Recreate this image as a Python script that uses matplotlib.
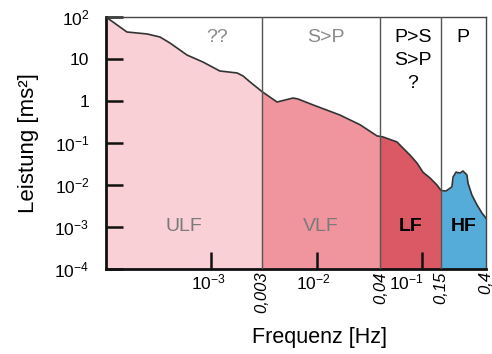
import numpy as np
import matplotlib
matplotlib.use("Agg")
import matplotlib.pyplot as plt
import matplotlib.transforms as mtransforms

plt.rcParams["font.family"] = ["Liberation Sans", "DejaVu Sans"]
plt.rcParams["mathtext.fontset"] = "custom"
plt.rcParams["mathtext.rm"] = "Liberation Sans"
plt.rcParams["mathtext.it"] = "Liberation Sans:italic"
plt.rcParams["mathtext.bf"] = "Liberation Sans:bold"

# Power spectral density of heart-rate variability (log-log)
freq = [1.0e-4, 1.58e-4, 2.45e-4, 3.25e-4, 4.04e-4, 5.86e-4, 8.3e-4, 1.2e-3,
        1.75e-3, 1.99e-3, 2.32e-3, 3.0e-3, 4.18e-3, 5.93e-3, 6.6e-3, 9.2e-3,
        0.0165, 0.0256, 0.0371, 0.040, 0.0423, 0.0573, 0.0653, 0.0762, 0.0887,
        0.101, 0.118, 0.137, 0.150, 0.167, 0.19, 0.195, 0.208, 0.227, 0.242,
        0.264, 0.27, 0.294, 0.329, 0.367, 0.40]
power = [100, 43.9, 39.4, 33.3, 24.0, 12.4, 8.45, 5.16,
         4.63, 3.93, 2.83, 1.68, 0.94, 1.17, 1.11, 0.80,
         0.46, 0.27, 0.146, 0.142, 0.138, 0.105, 0.075, 0.051, 0.033,
         0.020, 0.0145, 0.0099, 0.0073, 0.0071, 0.0089, 0.0153, 0.020, 0.019, 0.0213,
         0.0171, 0.011, 0.0057, 0.0033, 0.0021, 0.0016]

band_names = ["ULF", "VLF", "LF", "HF"]
band_edges = [1e-4, 0.003, 0.04, 0.15, 0.4]
band_colors = ["#f8d0d5", "#f0959e", "#da5965", "#55acd9"]
band_label_colors = ["#7a7a7a", "#7a7a7a", "black", "black"]
band_label_weights = ["normal", "normal", "bold", "bold"]
origin_texts = [("??", 1.13e-3, 0.92, "#8a8a8a"),
                ("S>P", 0.0122, 0.92, "#8a8a8a"),
                ("P>S", 0.0813, 0.92, "black"),
                ("S>P", 0.0813, 0.828, "black"),
                ("?", 0.0813, 0.735, "black"),
                ("P", 0.242, 0.92, "black")]

y_ticks = [1e2, 1e1, 1, 1e-1, 1e-2, 1e-3, 1e-4]
y_tick_labels = [r"$10^{2}$", "10", "1", r"$10^{-1}$", r"$10^{-2}$", r"$10^{-3}$", r"$10^{-4}$"]
x_ticks = [1e-3, 1e-2, 1e-1]
x_tick_labels = [r"$10^{-3}$", r"$10^{-2}$", r"$10^{-1}$"]
x_label_shift_px = [-3, -4, -16]
edge_labels = ["0,003", "0,04", "0,15", "0,4"]

f = np.array(freq)
p = np.array(power)

fig = plt.figure(figsize=(4.92, 3.54), dpi=100)
ax = fig.add_axes([0.2154, 0.241, 0.7724, 0.711])
ax.set_xscale("log")
ax.set_yscale("log")
ax.set_xlim(1e-4, 0.4)
ax.set_ylim(1e-4, 1e2)

for i, name in enumerate(band_names):
    lo, hi = band_edges[i], band_edges[i + 1]
    mask = (f >= lo) & (f <= hi)
    ax.fill_between(f, 1e-4, p, where=mask, color=band_colors[i], lw=0, zorder=1)

ax.plot(f, p, color="#333333", lw=1.2, zorder=3)

for e in band_edges[1:-1]:
    ax.axvline(e, color="#555555", lw=1.0, zorder=4)

blend = mtransforms.blended_transform_factory(ax.transData, ax.transAxes)
for i, name in enumerate(band_names):
    xc = np.sqrt(band_edges[i] * band_edges[i + 1])
    ax.text(xc, 0.166, name, transform=blend, ha="center", va="center",
            fontsize=14, color=band_label_colors[i],
            fontweight=band_label_weights[i], zorder=5)

for txt, xv, yv, col in origin_texts:
    ax.text(xv, yv, txt, transform=blend, ha="center", va="center",
            fontsize=14, color=col, zorder=5)

# Axes frame
for side in ["left", "bottom"]:
    ax.spines[side].set_linewidth(2.0)
    ax.spines[side].set_color("#111111")
for side in ["top", "right"]:
    ax.spines[side].set_linewidth(1.0)
    ax.spines[side].set_color("#444444")

ax.set_yticks(y_ticks)
ax.set_yticklabels(y_tick_labels, fontsize=12.5)
ax.set_xticks(x_ticks)
ax.set_xticklabels(x_tick_labels, fontsize=12.5)
ax.minorticks_off()
ax.tick_params(axis="both", direction="in", length=12, width=1.8, color="#111111", zorder=6)
ax.tick_params(axis="y", pad=12)
ax.tick_params(axis="x", pad=3)

# nudge the decade labels on the frequency axis so they clear the band edges
for lab, dx in zip(ax.get_xticklabels(), x_label_shift_px):
    lab.set_transform(lab.get_transform() +
                      mtransforms.ScaledTranslation(dx / 100, 0, fig.dpi_scale_trans))

for e, lab in zip(band_edges[1:], edge_labels):
    ax.text(e, -0.01, lab, transform=blend, rotation=90, ha="center", va="top",
            fontsize=12, style="italic", color="black")

ax.set_xlabel("Frequenz [Hz]", fontsize=15.5, va="center")
ax.xaxis.set_label_coords(0.563, -0.275)
ax.set_ylabel("Leistung [ms²]", fontsize=16, va="center")
ax.yaxis.set_label_coords(-0.205, 0.5)

fig.savefig("out.png", dpi=100)
